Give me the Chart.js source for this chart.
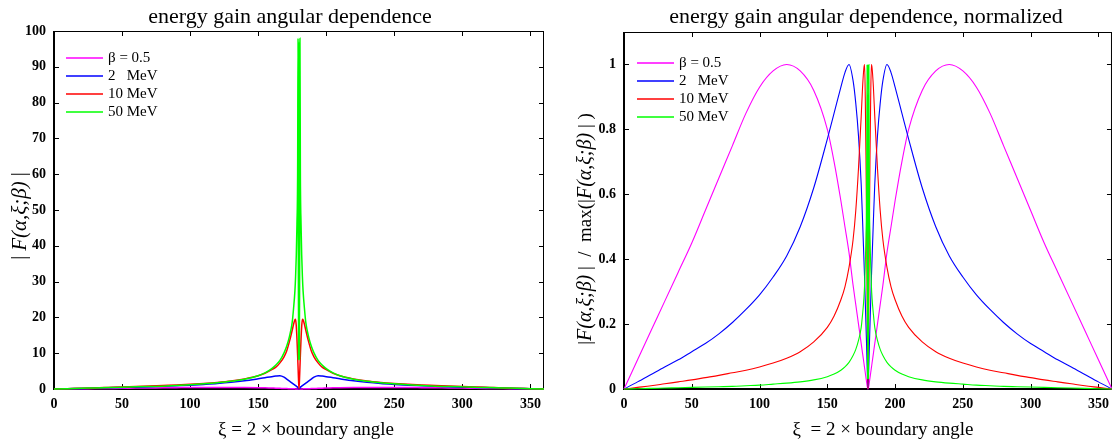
<!DOCTYPE html>
<html>
<head>
<meta charset="utf-8">
<script src="https://cdn.jsdelivr.net/npm/chart.js@4.4.1/dist/chart.umd.min.js"></script>
<style>
  html, body { margin: 0; padding: 0; background: #fff; overflow: hidden; }
  body { width: 1112px; height: 441px; position: relative; }
  canvas { position: absolute; top: 0; }
  #absChart { left: 0; }
  #normChart { left: 556px; }
</style>
</head>
<body>
<canvas id="absChart" width="556" height="441"></canvas>
<canvas id="normChart" width="560" height="441"></canvas>
<script>
// xi = 2 x boundary angle, in degrees (denser near 180 where the curves are sharp)
const angles = [
  0, 10, 20, 30, 40, 50, 60, 70, 80, 90, 100, 110, 120, 130, 140, 150,
  155, 160, 163, 166, 169, 171, 173, 175, 176, 177, 177.5, 178, 178.5, 179, 179.3, 179.6,
  180,
  180.4, 180.7, 181, 181.5, 182, 182.5, 183, 184, 185, 187, 189, 191, 194, 197, 200, 205,
  210, 220, 230, 240, 250, 260, 270, 280, 290, 300, 310, 320, 330, 340, 350, 360
];

const seriesLabels = ['β = 0.5', '2   MeV', '10 MeV', '50 MeV'];
const seriesColors = ['#ff00ff', '#0000ff', '#ff0000', '#00ff00'];

// |F(alpha, xi; beta)|
const absBeta = [
  0, 0.04, 0.08, 0.12, 0.16, 0.2, 0.25, 0.29, 0.34, 0.38, 0.42, 0.44, 0.45, 0.44, 0.41, 0.36,
  0.32, 0.26, 0.23, 0.19, 0.14, 0.12, 0.09, 0.06, 0.05, 0.04, 0.03, 0.02, 0.015, 0.01, 0.005, 0.002,
  0,
  0.002, 0.005, 0.01, 0.015, 0.02, 0.03, 0.04, 0.05, 0.06, 0.09, 0.12, 0.14, 0.19, 0.23, 0.26, 0.32,
  0.36, 0.41, 0.44, 0.45, 0.44, 0.42, 0.38, 0.34, 0.29, 0.25, 0.2, 0.16, 0.12, 0.08, 0.04, 0
];
const abs2MeV = [
  0, 0.08, 0.17, 0.25, 0.33, 0.43, 0.52, 0.63, 0.76, 0.91, 1.07, 1.28, 1.52, 1.85, 2.29, 2.85,
  3.15, 3.45, 3.6, 3.7, 3.3, 2.75, 2.2, 1.65, 1.35, 1.1, 0.95, 0.8, 0.65, 0.45, 0.3, 0.15,
  0,
  0.15, 0.3, 0.45, 0.65, 0.8, 0.95, 1.1, 1.35, 1.65, 2.2, 2.75, 3.3, 3.7, 3.6, 3.45, 3.15,
  2.85, 2.29, 1.85, 1.52, 1.28, 1.07, 0.91, 0.76, 0.63, 0.52, 0.43, 0.33, 0.25, 0.17, 0.08, 0
];
const abs10MeV = [
  0, 0.1, 0.2, 0.31, 0.43, 0.55, 0.68, 0.82, 0.98, 1.13, 1.33, 1.56, 1.85, 2.24, 2.83, 3.7,
  4.4, 5.4, 6.1, 7.3, 9.0, 10.7, 13.3, 16.4, 18.1, 19.3, 19.5, 17.6, 14.0, 9.4, 6.2, 3.1,
  0,
  3.1, 6.2, 9.4, 14.0, 17.6, 19.5, 19.3, 18.1, 16.4, 13.3, 10.7, 9.0, 7.3, 6.1, 5.4, 4.4,
  3.7, 2.83, 2.24, 1.85, 1.56, 1.33, 1.13, 0.98, 0.82, 0.68, 0.55, 0.43, 0.31, 0.2, 0.1, 0
];
const abs50MeV = [
  0, 0.1, 0.2, 0.3, 0.4, 0.5, 0.6, 0.7, 0.8, 1.0, 1.2, 1.45, 1.75, 2.15, 2.75, 3.7,
  4.5, 5.7, 6.7, 8.0, 10.1, 12.0, 14.7, 18.6, 22.5, 27.4, 31.4, 37.2, 46, 61, 98, 8,
  97,
  8, 98, 61, 46, 37.2, 31.4, 27.4, 22.5, 18.6, 14.7, 12.0, 10.1, 8.0, 6.7, 5.7, 4.5,
  3.7, 2.75, 2.15, 1.75, 1.45, 1.2, 1.0, 0.8, 0.7, 0.6, 0.5, 0.4, 0.3, 0.2, 0.1, 0
];

// |F| / max(|F|)
const normBeta = [
  0, 0.09, 0.18, 0.27, 0.36, 0.45, 0.55, 0.65, 0.75, 0.85, 0.93, 0.98, 1.0, 0.98, 0.92, 0.8,
  0.7, 0.58, 0.5, 0.42, 0.32, 0.26, 0.2, 0.14, 0.11, 0.08, 0.065, 0.05, 0.035, 0.02, 0.012, 0.005,
  0,
  0.005, 0.012, 0.02, 0.035, 0.05, 0.065, 0.08, 0.11, 0.14, 0.2, 0.26, 0.32, 0.42, 0.5, 0.58, 0.7,
  0.8, 0.92, 0.98, 1.0, 0.98, 0.93, 0.85, 0.75, 0.65, 0.55, 0.45, 0.36, 0.27, 0.18, 0.09, 0
];
const norm2MeV = [
  0, 0.022, 0.045, 0.068, 0.09, 0.115, 0.14, 0.17, 0.205, 0.245, 0.29, 0.345, 0.41, 0.5, 0.62, 0.77,
  0.85, 0.93, 0.975, 1.0, 0.95, 0.88, 0.78, 0.63, 0.52, 0.4, 0.34, 0.27, 0.2, 0.13, 0.08, 0.04,
  0,
  0.04, 0.08, 0.13, 0.2, 0.27, 0.34, 0.4, 0.52, 0.63, 0.78, 0.88, 0.95, 1.0, 0.975, 0.93, 0.85,
  0.77, 0.62, 0.5, 0.41, 0.345, 0.29, 0.245, 0.205, 0.17, 0.14, 0.115, 0.09, 0.068, 0.045, 0.022, 0
];
const norm10MeV = [
  0, 0.005, 0.01, 0.016, 0.022, 0.028, 0.035, 0.042, 0.05, 0.058, 0.068, 0.08, 0.095, 0.115, 0.145, 0.19,
  0.225, 0.275, 0.315, 0.375, 0.46, 0.55, 0.68, 0.84, 0.93, 0.99, 1.0, 0.9, 0.72, 0.48, 0.32, 0.16,
  0,
  0.16, 0.32, 0.48, 0.72, 0.9, 1.0, 0.99, 0.93, 0.84, 0.68, 0.55, 0.46, 0.375, 0.315, 0.275, 0.225,
  0.19, 0.145, 0.115, 0.095, 0.08, 0.068, 0.058, 0.05, 0.042, 0.035, 0.028, 0.022, 0.016, 0.01, 0.005, 0
];
const norm50MeV = [
  0, 0.001, 0.002, 0.003, 0.004, 0.005, 0.006, 0.007, 0.008, 0.01, 0.012, 0.015, 0.018, 0.022, 0.028, 0.038,
  0.046, 0.058, 0.068, 0.082, 0.103, 0.122, 0.15, 0.19, 0.23, 0.28, 0.32, 0.38, 0.47, 0.62, 1.0, 0.03,
  1.0,
  0.03, 1.0, 0.62, 0.47, 0.38, 0.32, 0.28, 0.23, 0.19, 0.15, 0.122, 0.103, 0.082, 0.068, 0.058, 0.046,
  0.038, 0.028, 0.022, 0.018, 0.015, 0.012, 0.01, 0.008, 0.007, 0.006, 0.005, 0.004, 0.003, 0.002, 0.001, 0
];

const xTickStep = 50;
const absTickStep = 10;
const normTickStep = 0.2;

const serif = '"Liberation Serif", "Times New Roman", Times, serif';
const fReg = size => `${size}px ${serif}`;
const fIt = size => `italic ${size}px ${serif}`;
const tickFont = { family: serif, size: 14, weight: 'bold' };

// draw a line of mixed-font text centred on (x, y)
function drawRuns(ctx, runs, x, y) {
  let total = 0;
  runs.forEach(r => { ctx.font = r.f; total += ctx.measureText(r.t).width; });
  let cx = x - total / 2;
  ctx.textAlign = 'left';
  ctx.textBaseline = 'middle';
  runs.forEach(r => {
    ctx.font = r.f;
    ctx.fillText(r.t, cx, y);
    cx += ctx.measureText(r.t).width;
  });
}

// box with inward ticks on all four sides
const framePlugin = {
  id: 'frame',
  beforeDatasetsDraw(chart) {
    const { ctx, chartArea: a, scales: { x, y } } = chart;
    ctx.save();
    ctx.strokeStyle = '#000';
    ctx.lineWidth = 1;
    ctx.strokeRect(a.left + 0.5, a.top + 0.5, a.right - a.left - 1, a.bottom - a.top);
    ctx.lineWidth = 2;
    ctx.beginPath();
    ctx.moveTo(a.left, a.top);
    ctx.lineTo(a.left, a.bottom);
    ctx.lineTo(a.right, a.bottom);
    ctx.stroke();
    ctx.lineWidth = 1;
    ctx.beginPath();
    x.ticks.forEach(t => {
      const px = Math.round(x.getPixelForValue(t.value)) + 0.5;
      ctx.moveTo(px, a.bottom); ctx.lineTo(px, a.bottom - 5);
      ctx.moveTo(px, a.top); ctx.lineTo(px, a.top + 5);
    });
    y.ticks.forEach(t => {
      const py = Math.round(y.getPixelForValue(t.value)) + 0.5;
      ctx.moveTo(a.left, py); ctx.lineTo(a.left + 5, py);
      ctx.moveTo(a.right, py); ctx.lineTo(a.right - 5, py);
    });
    ctx.stroke();
    ctx.restore();
  }
};

// title, axis labels and legend
function textPlugin(cfg) {
  return {
    id: 'texts',
    afterDraw(chart) {
      const ctx = chart.ctx;
      ctx.save();
      ctx.fillStyle = '#000';
      drawRuns(ctx, [{ t: cfg.title, f: fReg(22) }], cfg.titleX, 17);
      drawRuns(ctx, cfg.xLabel, cfg.xLabelX, 430);
      ctx.save();
      ctx.translate(cfg.yLabelX, cfg.yLabelY);
      ctx.rotate(-Math.PI / 2);
      drawRuns(ctx, cfg.yLabel, 0, 0);
      ctx.restore();

      chart.data.datasets.forEach((ds, i) => {
        const ly = Math.round(cfg.legendY + i * 18);
        ctx.strokeStyle = ds.borderColor;
        ctx.lineWidth = 1.5;
        ctx.beginPath();
        ctx.moveTo(cfg.legendX, ly);
        ctx.lineTo(cfg.legendX + 37, ly);
        ctx.stroke();
        ctx.fillStyle = '#000';
        ctx.font = fReg(15);
        ctx.textAlign = 'left';
        ctx.textBaseline = 'middle';
        ctx.fillText(ds.label, cfg.legendX + 42, ly);
      });
      ctx.restore();
    }
  };
}

function makeDatasets(valueSets, width) {
  return valueSets.map((vals, i) => ({
    label: seriesLabels[i],
    data: angles.map((a, k) => ({ x: a, y: vals[k] })),
    borderColor: seriesColors[i],
    borderWidth: width,
    pointRadius: 0,
    cubicInterpolationMode: 'monotone',
    clip: 3,
    order: 4 - i
  }));
}

function makeChart(id, valueSets, opts) {
  return new Chart(document.getElementById(id), {
    type: 'line',
    data: { datasets: makeDatasets(valueSets, opts.lineWidth) },
    options: {
      responsive: false,
      animation: false,
      layout: { padding: opts.padding },
      plugins: { legend: { display: false }, tooltip: { enabled: false } },
      scales: {
        x: {
          type: 'linear',
          min: 0,
          max: 360,
          grid: { display: false, drawTicks: false },
          border: { display: false },
          ticks: { stepSize: xTickStep, includeBounds: false, padding: 7, color: '#000', font: tickFont },
          afterFit: s => { s.height = 52; }
        },
        y: {
          min: 0,
          max: opts.yMax,
          grid: { display: false, drawTicks: false },
          border: { display: false },
          ticks: { stepSize: opts.yStep, includeBounds: false, padding: 8, color: '#000', font: tickFont,
                   callback: v => String(Number(v.toFixed(1))) },
          afterFit: s => { s.width = opts.yWidth; }
        }
      }
    },
    plugins: [framePlugin, textPlugin(opts.text)]
  });
}

makeChart('absChart', [absBeta, abs2MeV, abs10MeV, abs50MeV], {
  lineWidth: 1.5,
  padding: { top: 31, right: 12, left: 0, bottom: 0 },
  yMax: 100,
  yStep: absTickStep,
  yWidth: 54,
  text: {
    title: 'energy gain angular dependence',
    titleX: 290,
    xLabel: [{ t: 'ξ = 2 × boundary angle', f: fReg(19) }],
    xLabelX: 306,
    yLabel: [{ t: '| ', f: fReg(20) }, { t: 'F(α,ξ;β)', f: fIt(21) }, { t: ' |', f: fReg(20) }],
    yLabelX: 20,
    yLabelY: 216,
    legendX: 66,
    legendY: 58
  }
});

makeChart('normChart', [normBeta, norm2MeV, norm10MeV, norm50MeV], {
  lineWidth: 1.1,
  padding: { top: 32, right: 3, left: 0, bottom: 0 },
  yMax: 1.1,
  yStep: normTickStep,
  yWidth: 68,
  text: {
    title: 'energy gain angular dependence, normalized',
    titleX: 310,
    xLabel: [{ t: 'ξ  = 2 × boundary angle', f: fReg(19) }],
    xLabelX: 327,
    yLabel: [
      { t: '|', f: fReg(19) }, { t: 'F(α,ξ;β)', f: fIt(20) }, { t: ' |  /  max(|', f: fReg(19) },
      { t: 'F(α,ξ;β)', f: fIt(20) }, { t: ' | )', f: fReg(19) }
    ],
    yLabelX: 30,
    yLabelY: 229,
    legendX: 81,
    legendY: 63
  }
});
</script>
</body>
</html>
